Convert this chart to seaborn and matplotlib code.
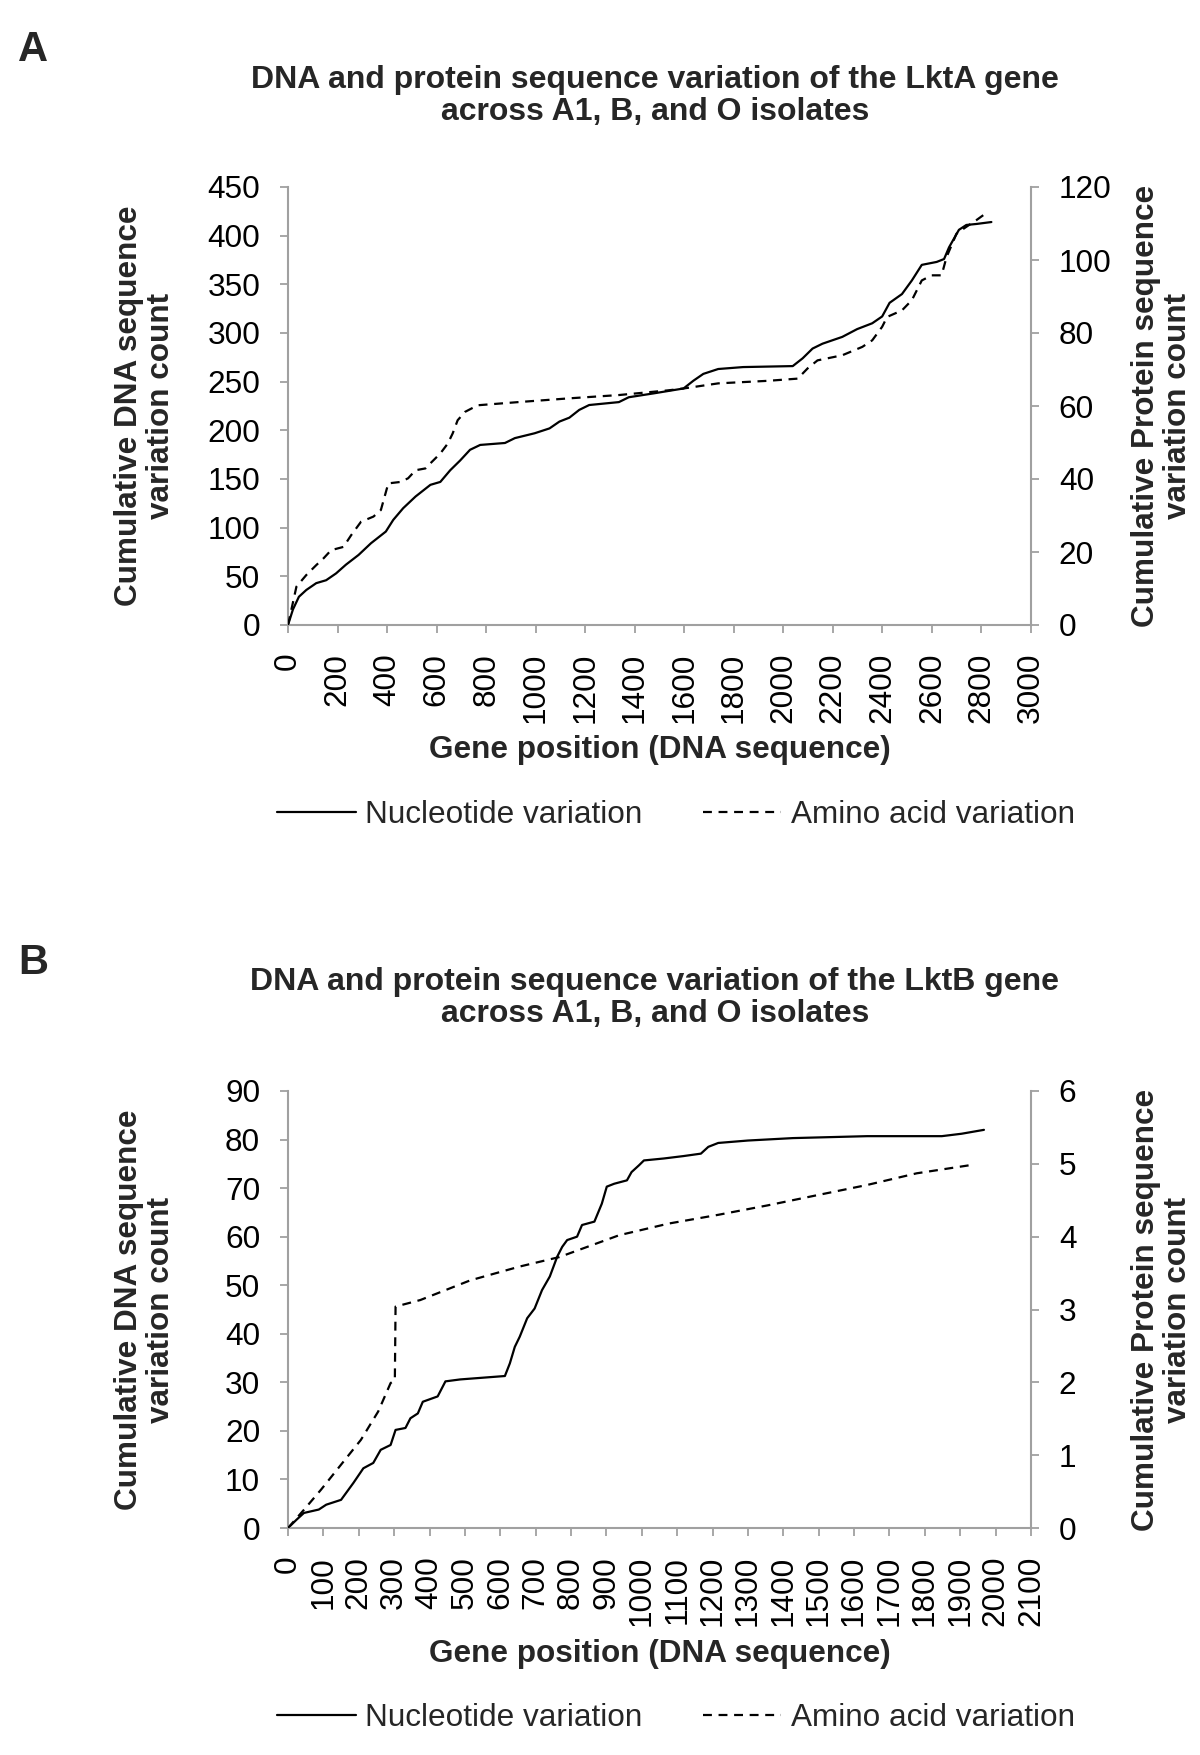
import numpy as np
import pandas as pd
import matplotlib
matplotlib.use("Agg")
import matplotlib.pyplot as plt
import seaborn as sns

# ------------------------------------------------------------
# data (gene position vs cumulative counts)
# ------------------------------------------------------------
# Panel A - LktA
lkta_nt_pos = [0, 20, 44, 74, 114, 154, 194, 234, 285, 335, 395, 425, 465, 515, 575,
               615, 655, 695, 735, 776, 876, 916, 996, 1056, 1096, 1136, 1176, 1216,
               1336, 1376, 1477, 1597, 1637, 1677, 1737, 1838, 2038, 2078, 2118, 2158,
               2238, 2298, 2359, 2399, 2429, 2479, 2519, 2559, 2619, 2649, 2669, 2709,
               2739, 2779, 2840]
lkta_nt_count = [0, 16, 29, 36, 43, 46, 53, 62, 72, 84, 96, 108, 120, 132, 144,
                 147, 159, 169, 180, 185, 187, 192, 197, 202, 209, 213, 221, 226,
                 229, 234, 238, 243, 251, 258, 263, 265, 266, 274, 284, 289,
                 296, 304, 310, 317, 331, 340, 354, 370, 373, 376, 388, 406,
                 411, 412, 414]

lkta_aa_pos = [0, 34, 74, 114, 144, 174, 224, 255, 295, 345, 375, 405, 455, 485, 515,
               555, 575, 615, 645, 665, 685, 715, 766, 936, 1136, 1336, 1537, 1597,
               1737, 1938, 2058, 2098, 2138, 2238, 2319, 2359, 2399, 2419, 2479, 2519,
               2559, 2599, 2639, 2659, 2699, 2739, 2779, 2820]
lkta_aa_count = [0, 10.5, 13.7, 16.4, 18.3, 20.5, 21.4, 24.6, 28.3, 29.7, 31.5, 38.8,
                 39.2, 40.2, 42.4, 42.9, 44.3, 47.0, 49.7, 52.5, 56.1, 58.4, 60.2,
                 61.1, 62.1, 63.0, 64.3, 64.8, 66.2, 66.9, 67.5, 70.3, 72.5, 73.9,
                 76.2, 78.0, 81.7, 84.4, 86.2, 89.0, 94.4, 95.8, 95.8, 100.8, 107.2,
                 109.1, 110.9, 112.9]

# Panel B - LktB
lktb_nt_pos = [0, 24, 45, 87, 108, 150, 164, 185, 213, 241, 262, 290, 304, 332, 346,
               367, 381, 423, 445, 487, 613, 627, 641, 655, 676, 697, 718, 740, 761,
               775, 789, 817, 831, 866, 887, 901, 922, 958, 971, 992, 1006, 1062,
               1118, 1167, 1188, 1216, 1300, 1427, 1637, 1848, 1904, 1967]
lktb_nt_count = [0, 1.7, 3.1, 3.8, 4.8, 5.8, 7.2, 9.3, 12.3, 13.4, 16.1, 17.1, 20.2,
                 20.6, 22.6, 23.6, 26.0, 27.1, 30.2, 30.6, 31.3, 33.9, 37.3, 39.4,
                 43.2, 45.2, 49.0, 51.8, 55.9, 57.9, 59.3, 60.0, 62.4, 63.1, 66.8,
                 70.3, 70.9, 71.6, 73.3, 74.7, 75.7, 76.1, 76.6, 77.1, 78.5, 79.3,
                 79.8, 80.3, 80.7, 80.7, 81.2, 82.0]

lktb_aa_pos = [0, 45, 94, 150, 206, 255, 290, 302, 304, 374, 515, 655, 767, 936,
               1076, 1216, 1356, 1496, 1637, 1777, 1939]
lktb_aa_count = [0, 0.25, 0.53, 0.87, 1.21, 1.60, 1.99, 2.03, 3.04, 3.13, 3.40, 3.59,
                 3.72, 4.02, 4.18, 4.30, 4.43, 4.57, 4.71, 4.87, 4.99]

panels = [
    dict(tag="A", gene="LktA", nt=(lkta_nt_pos, lkta_nt_count), aa=(lkta_aa_pos, lkta_aa_count),
         xmax=3000, xstep=200, ymax=450, ystep=50, y2max=120, y2step=20),
    dict(tag="B", gene="LktB", nt=(lktb_nt_pos, lktb_nt_count), aa=(lktb_aa_pos, lktb_aa_count),
         xmax=2100, xstep=100, ymax=90, ystep=10, y2max=6, y2step=1),
]

# ------------------------------------------------------------
# style
# ------------------------------------------------------------
sns.set_style("white")
plt.rcParams["font.family"] = ["Liberation Sans", "DejaVu Sans"]
FS = 22.7
plt.rcParams["font.size"] = FS

GRAY = "#a0a0a0"
W, H = 1200, 1755
fig = plt.figure(figsize=(W / 100, H / 100), dpi=100)

# pixel layout of each panel: axes top/bottom, title, xlabel, legend, tag
layout = [
    dict(ax_top=187, ax_bot=625, title_y=96, xlabel_y=750, legend_y=815, tag_y=30),
    dict(ax_top=1091, ax_bot=1528, title_y=998, xlabel_y=1654, legend_y=1718, tag_y=943),
]
AX_L, AX_R = 288, 1031

for p, lay in zip(panels, layout):
    h_ax = lay["ax_bot"] - lay["ax_top"]
    ax = fig.add_axes([AX_L / W, 1 - lay["ax_bot"] / H, (AX_R - AX_L) / W, h_ax / H])
    ax2 = ax.twinx()

    df_nt = pd.DataFrame({"pos": p["nt"][0], "count": p["nt"][1]})
    df_aa = pd.DataFrame({"pos": p["aa"][0], "count": p["aa"][1]})

    sns.lineplot(data=df_nt, x="pos", y="count", ax=ax, color="black",
                 linewidth=1.6, estimator=None, sort=False, label="Nucleotide variation")
    sns.lineplot(data=df_aa, x="pos", y="count", ax=ax2, color="black",
                 linewidth=1.6, estimator=None, sort=False,
                 linestyle=(0, (4, 3)), label="Amino acid variation")

    ax.set_xlim(0, p["xmax"])
    ax.set_ylim(0, p["ymax"])
    ax2.set_ylim(0, p["y2max"])
    ax.set_xticks(np.arange(0, p["xmax"] + 1, p["xstep"]))
    ax.set_yticks(np.arange(0, p["ymax"] + 1, p["ystep"]))
    ax2.set_yticks(np.arange(0, p["y2max"] + 1, p["y2step"]))

    for a in (ax, ax2):
        a.tick_params(axis="both", direction="out", length=6, width=1.3,
                      color=GRAY, pad=14, labelsize=FS, labelcolor="black")
        for s in a.spines.values():
            s.set_color(GRAY)
            s.set_linewidth(1.5)
    ax.tick_params(axis="x", labelrotation=90)
    ax.tick_params(left=True, bottom=True)
    ax2.tick_params(right=True)
    ax.spines["top"].set_visible(False)
    ax.spines["right"].set_visible(False)
    for side in ("top", "left", "bottom"):
        ax2.spines[side].set_visible(False)

    ax.set_xlabel("Gene position (DNA sequence)", fontweight="bold", fontsize=FS)
    ax.set_ylabel("Cumulative DNA sequence\nvariation count", fontweight="bold",
                  fontsize=FS, linespacing=1.12)
    ax2.set_ylabel("Cumulative Protein sequence\nvariation count", fontweight="bold",
                   fontsize=FS, linespacing=1.12)
    ax.xaxis.set_label_coords(0.5, (lay["ax_bot"] - lay["xlabel_y"]) / h_ax)
    ax.xaxis.label.set_va("center")
    ax.yaxis.set_label_coords((145 - AX_L) / (AX_R - AX_L), 0.5)
    ax.yaxis.label.set_va("center")
    ax2.yaxis.set_label_coords((1162 - AX_L) / (AX_R - AX_L), 0.5)
    ax2.yaxis.label.set_va("center")

    # one legend for both series, below the axes
    h1, l1 = ax.get_legend_handles_labels()
    h2, l2 = ax2.get_legend_handles_labels()
    if ax2.get_legend():
        ax2.get_legend().remove()
    ax.legend(h1 + h2, l1 + l2, loc="center", ncol=2, frameon=False,
              bbox_to_anchor=(676 / W, 1 - lay["legend_y"] / H),
              bbox_transform=fig.transFigure, fontsize=FS,
              handlelength=2.5, handletextpad=0.3, columnspacing=1.9)

    fig.text(655 / W, 1 - lay["title_y"] / H,
             f"DNA and protein sequence variation of the {p['gene']} gene\n"
             "across A1, B, and O isolates",
             ha="center", va="center", fontsize=FS + 0.3, fontweight="bold",
             linespacing=1.12)
    fig.text(18 / W, 1 - lay["tag_y"] / H, p["tag"], ha="left", va="top",
             fontsize=30, fontweight="heavy")

fig.savefig("out.png", dpi=100, facecolor="white")
